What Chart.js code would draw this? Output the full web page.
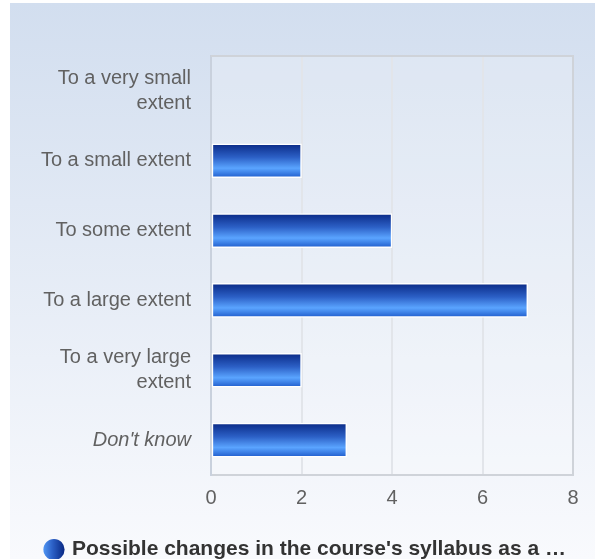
<html>
<head>
	<title>Syllabus chart</title>
	<meta charset="utf-8" />
	<script type="text/javascript" src="https://cdn.jsdelivr.net/npm/chart.js@4/dist/chart.umd.min.js"></script>
	<style>
		body { margin: 0; background: #fff; }
		#wrap { width: 595px; height: 559px; }
	</style>
</head>
<body>
	<div id="wrap"><canvas id="canvas" width="595" height="559"></canvas></div>
	<script type="text/javascript">
		var categories = [
			["To a very small", "extent"],
			"To a small extent",
			"To some extent",
			"To a large extent",
			["To a very large", "extent"],
			"Don't know"
		];
		var seriesName = "Possible changes in the course's syllabus as a \u2026";
		var seriesValues = [0, 2, 4, 7, 2, 3];
		var xTicks = [0, 2, 4, 6, 8];

		var BAR_H = 34;
		var FONT = "Liberation Sans, Arial, sans-serif";

		function barGradient(c) {
			var chart = c.chart;
			if (!chart.chartArea || !chart.scales.y) return "#3a7be0";
			var yc = chart.scales.y.getPixelForValue(c.dataIndex);
			var g = chart.ctx.createLinearGradient(0, yc - BAR_H / 2, 0, yc + BAR_H / 2);
			g.addColorStop(0, "#0a2a86");
			g.addColorStop(0.4, "#2c60c6");
			g.addColorStop(0.72, "#5aa4ff");
			g.addColorStop(1, "#1f5ccc");
			return g;
		}

		var bgPlugin = {
			id: "bg",
			beforeDraw: function(chart) {
				var ctx = chart.ctx;
				ctx.save();
				ctx.fillStyle = "#ffffff";
				ctx.fillRect(0, 0, chart.width, chart.height);
				var g = ctx.createLinearGradient(0, 3, 0, chart.height);
				g.addColorStop(0, "#d2deef");
				g.addColorStop(1, "#f9fafd");
				ctx.fillStyle = g;
				ctx.fillRect(10, 3, chart.width - 10, chart.height - 3);
				var a = chart.chartArea;
				ctx.fillStyle = "rgba(255,255,255,0.2)";
				ctx.fillRect(a.left, a.top, a.right - a.left, a.bottom - a.top);
				ctx.restore();
			},
			afterDatasetsDraw: function(chart) {
				var ctx = chart.ctx, a = chart.chartArea;
				ctx.save();
				ctx.strokeStyle = "#cfd3d9";
				ctx.lineWidth = 2;
				ctx.beginPath();
				ctx.moveTo(a.left, a.top);
				ctx.lineTo(a.right, a.top);
				ctx.lineTo(a.right, a.bottom);
				ctx.stroke();
				ctx.restore();
			}
		};

		var ctx = document.getElementById("canvas").getContext("2d");
		var chart = new Chart(ctx, {
			type: "bar",
			data: {
				labels: categories,
				datasets: [{
					label: seriesName,
					data: seriesValues,
					backgroundColor: barGradient,
					borderColor: "#ffffff",
					borderWidth: 1.5,
					borderSkipped: false,
					barThickness: BAR_H
				}]
			},
			plugins: [bgPlugin],
			options: {
				indexAxis: "y",
				responsive: false,
				animation: false,
				layout: { padding: { top: 56, right: 22, left: 0, bottom: -11 } },
				scales: {
					x: {
						min: 0,
						max: 8,
						afterBuildTicks: function(s) {
							s.ticks = xTicks.map(function(v) { return { value: v }; });
						},
						afterFit: function(s) { s.height = 57; },
						grid: { color: "#e2e5ea", lineWidth: 2, drawTicks: false },
						border: { color: "#cfd3d9", width: 2 },
						ticks: {
							padding: 11,
							color: "#616161",
							font: { family: FONT, size: 20 }
						}
					},
					y: {
						afterFit: function(s) { s.width = 211; },
						grid: { display: false, drawTicks: false },
						border: { color: "#c9d1dd", width: 2 },
						ticks: {
							padding: 20,
							color: "#616161",
							font: function(c) {
								return {
									family: FONT,
									size: 20,
									style: c.index === 5 ? "italic" : "normal",
									lineHeight: 1.25
								};
							}
						}
					}
				},
				plugins: {
					tooltip: { enabled: false },
					legend: {
						position: "bottom",
						align: "end",
						labels: {
							usePointStyle: true,
							pointStyle: "circle",
							boxWidth: 15,
							boxHeight: 15,
							padding: 7,
							color: "#333",
							font: { family: FONT, size: 21, weight: "bold" },
							generateLabels: function(chart) {
								var g = chart.ctx.createLinearGradient(41, 0, 64, 0);
								g.addColorStop(0, "#5aa4ff");
								g.addColorStop(0.5, "#2c60c6");
								g.addColorStop(1, "#0a2a86");
								return [{
									text: seriesName,
									fillStyle: g,
									strokeStyle: g,
									lineWidth: 0,
									pointStyle: "circle",
									datasetIndex: 0,
									fontColor: "#333"
								}];
							}
						}
					}
				}
			}
		});
	</script>
</body>
</html>
